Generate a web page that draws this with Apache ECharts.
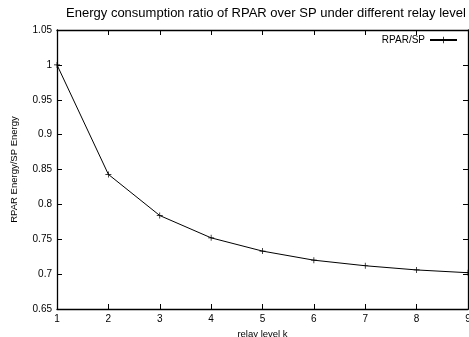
<!DOCTYPE html>
<html><head><meta charset="utf-8">
<script src="https://cdn.jsdelivr.net/npm/echarts@6/dist/echarts.min.js"></script>
<style>html,body{margin:0;padding:0;background:#fff}#c{width:469px;height:337px}</style>
</head><body><div id="c"></div>
<script>
var relayLevels = [1, 2, 3, 4, 5, 6, 7, 8, 9];
var ratioValues = [1.0, 0.843, 0.784, 0.752, 0.733, 0.720, 0.712, 0.706, 0.702];
var seriesName = 'RPAR/SP';
var titleText = 'Energy consumption ratio of RPAR over SP under different relay level';
var xLabel = 'relay level k';
var yLabel = 'RPAR Energy/SP Energy';

var font = 'Liberation Sans';
var plus = 'path://M-0.12,-1h0.24v2h-0.24z M-1,-0.12h2v0.24h-2z';
var chart = echarts.init(document.getElementById('c'));
var axisCommon = {
  axisLine: {show: true, onZero: false, lineStyle: {color: '#000', width: 1.3}},
  axisTick: {show: true, inside: true, length: 5, lineStyle: {color: '#000', width: 1}},
  splitLine: {show: false}
};
chart.setOption({
  animation: false,
  title: {text: titleText, left: 261, textAlign: 'center', top: 2,
    textStyle: {fontFamily: font, fontSize: 13, fontWeight: 'normal', color: '#000'}},
  legend: {data: [seriesName], right: 6, top: 30, align: 'right', itemWidth: 27, itemHeight: 8,
    itemGap: 4, textStyle: {fontFamily: font, fontSize: 10, color: '#000'}},
  grid: {left: 57, right: 1, top: 30, bottom: 28, outerBoundsMode: 'none', containLabel: false},
  xAxis: [
    Object.assign({type: 'value', min: 1, max: 9, interval: 1, position: 'bottom',
      name: xLabel, nameLocation: 'middle', nameGap: 18,
      nameTextStyle: {fontFamily: font, fontSize: 9.5, color: '#000'},
      axisLabel: {fontFamily: font, fontSize: 10, color: '#000', margin: 5}}, axisCommon),
    Object.assign({type: 'value', min: 1, max: 9, interval: 1, position: 'top',
      axisLabel: {show: false}}, axisCommon)
  ],
  yAxis: [
    Object.assign({type: 'value', min: 0.65, max: 1.05, interval: 0.05, position: 'left',
      name: yLabel, nameLocation: 'middle', nameGap: 38, nameRotate: 90,
      nameTextStyle: {fontFamily: font, fontSize: 9.5, color: '#000'},
      axisLabel: {fontFamily: font, fontSize: 10, color: '#000', margin: 5,
        formatter: function (v) { return String(+v.toFixed(2)); }}}, axisCommon),
    Object.assign({type: 'value', min: 0.65, max: 1.05, interval: 0.05, position: 'right',
      axisLabel: {show: false}}, axisCommon)
  ],
  series: [{
    name: seriesName, type: 'line',
    data: relayLevels.map(function (k, i) { return [k, ratioValues[i]]; }),
    symbol: plus, symbolSize: 6, showAllSymbol: true,
    lineStyle: {color: '#000', width: 1},
    itemStyle: {color: '#000'}
  }]
});
</script></body></html>
